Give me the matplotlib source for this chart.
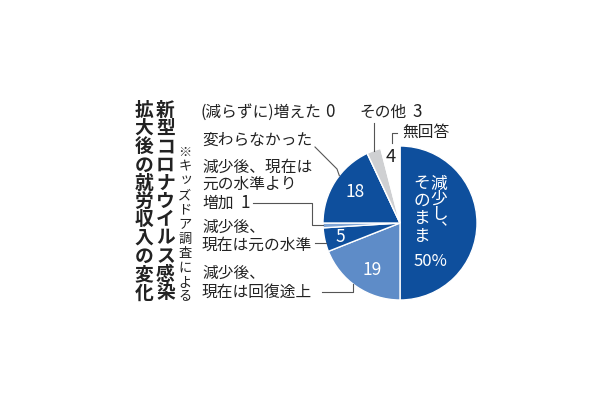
import numpy as np
import matplotlib
matplotlib.use("Agg")
import matplotlib.pyplot as plt

plt.rcParams['font.family'] = ['Noto Sans CJK JP', 'DejaVu Sans']

# ---- data ----
categories = ["減少し、そのまま", "減少後、現在は回復途上", "減少後、現在は元の水準",
              "減少後、現在は元の水準より増加", "変わらなかった", "(減らずに)増えた",
              "その他", "無回答"]
values = [50, 19, 5, 1, 18, 0, 3, 4]
colors = ["#0e4f9d", "#5e8cc8", "#0e4f9d", "#7fa5d6", "#0e4f9d", "#0e4f9d",
          "#cfd0d2", "#ffffff"]
title_cols = ["新型コロナウイルス感染", "拡大後の就労収入の変化"]
source_text = "※キッズドア調査による"

W, H = 610, 400
fig = plt.figure(figsize=(W / 100, H / 100), dpi=100)

cx, cy, r = 400, 223, 77
pax = fig.add_axes([(cx - r) / W, (H - cy - r) / H, 2 * r / W, 2 * r / H])
wedges, _ = pax.pie(values, colors=colors, startangle=90, counterclock=False,
                    radius=1, wedgeprops=dict(edgecolor="white", linewidth=1.0))
pax.set_xlim(-1, 1)
pax.set_ylim(-1, 1)
pax.set_aspect("equal")
pax.axis("off")

# overlay in pixel coords
ax = fig.add_axes([0, 0, 1, 1], zorder=5)
ax.set_xlim(0, W)
ax.set_ylim(H, 0)
ax.axis("off")

# wedge angles
tot = sum(values)
starts, ends = [], []
a = 90.0
for v in values:
    starts.append(a)
    a -= 360.0 * v / tot
    ends.append(a)
mids = [(s + e) / 2 for s, e in zip(starts, ends)]


def pt(angle, rr=1.0):
    t = np.deg2rad(angle)
    return cx + r * rr * np.cos(t), cy - r * rr * np.sin(t)


def edge_x_at_y(y):
    return cx - np.sqrt(r ** 2 - (y - cy) ** 2)


def edge_y_at_x(x, lower=True):
    d = np.sqrt(r ** 2 - (x - cx) ** 2)
    return cy + d if lower else cy - d


TXT = "#222222"
LC = "#555555"
LW = 0.8

VERT = {"、": "\ufe11", "。": "\ufe12"}


def vtext(x, y0, step, s, size, weight="normal", color=TXT):
    em = size * 100 / 72
    for i, ch in enumerate(s):
        dx, dy = 0, 0
        if ch in "ッャュョァィゥェォっゃゅょ":
            dx, dy = em * 0.1, -em * 0.1
        ax.text(x + dx, y0 + i * step + dy, VERT.get(ch, ch), fontsize=size,
                fontweight=weight, color=color, ha="center", va="center")


# title (vertical, right to left)
vtext(165.5, 110, 18.3, title_cols[0], 13.5, weight="bold")
vtext(144, 110, 18.3, title_cols[1], 13.5, weight="bold")
vtext(185, 152, 14.5, source_text, 9.5)

FS = 11.3
# labels
ax.text(200, 112, categories[5], fontsize=FS, color=TXT, ha="left", va="center")
ax.text(325, 112, str(values[5]), fontsize=FS + 1, color=TXT, ha="left", va="center")

ax.text(202, 140, categories[4], fontsize=FS, color=TXT, ha="left", va="center")
p = pt(142)
ax.plot([315, 337, p[0]], [147, 169, p[1]], color=LC, lw=LW)

ax.text(202, 167, "減少後、現在は", fontsize=FS, color=TXT, ha="left", va="center")
ax.text(202, 184, "元の水準より", fontsize=FS, color=TXT, ha="left", va="center")
ax.text(202, 203, "増加", fontsize=FS, color=TXT, ha="left", va="center")
ax.text(241, 203, str(values[3]), fontsize=FS + 1, color=TXT, ha="left", va="center")
p = pt(mids[3])
ax.plot([253, 312, 312, p[0]], [203, 203, p[1], p[1]], color=LC, lw=LW)

ax.text(202, 227, "減少後、", fontsize=FS, color=TXT, ha="left", va="center")
ax.text(202, 245, "現在は元の水準", fontsize=FS, color=TXT, ha="left", va="center")
ax.plot([315, edge_x_at_y(243)], [243, 243], color=LC, lw=LW)

ax.text(202, 273, "減少後、", fontsize=FS, color=TXT, ha="left", va="center")
ax.text(202, 292, "現在は回復途上", fontsize=FS, color=TXT, ha="left", va="center")
ax.plot([322, 353, 353], [292, 292, edge_y_at_x(353)], color=LC, lw=LW)

ax.text(359, 112, categories[6], fontsize=FS, color=TXT, ha="left", va="center")
ax.text(412, 112, str(values[6]), fontsize=FS + 1, color=TXT, ha="left", va="center")
p = pt(mids[6])
ax.plot([p[0], p[0]], [123, p[1]], color=LC, lw=LW)

ax.text(402, 132, categories[7], fontsize=FS, color=TXT, ha="left", va="center")
ax.plot([397, 392, 392], [133, 133, 143], color=LC, lw=LW)
ax.text(391, 157, str(values[7]), fontsize=FS + 2, color=TXT, ha="center", va="center")

# inside labels
ax.text(355, 192, str(values[4]), fontsize=12.5, color="white", ha="center", va="center")
ax.text(340, 237, str(values[2]), fontsize=12.5, color="white", ha="center", va="center")
ax.text(372, 270, str(values[1]), fontsize=12.5, color="white", ha="center", va="center")
vtext(439, 184, 15.5, "減少し、", 12, color="white")
vtext(422, 183, 17.8, "そのまま", 12, color="white")
ax.text(430, 261, f"{values[0]}%", fontsize=12, color="white", ha="center", va="center")

fig.savefig("out.png", dpi=100, facecolor="white")
